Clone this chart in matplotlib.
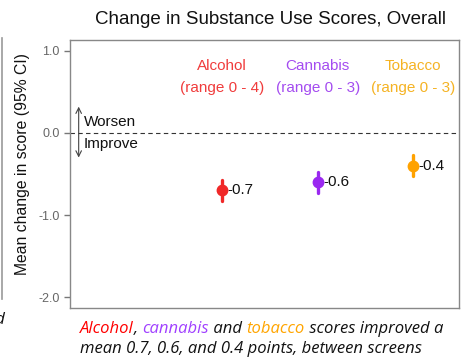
import numpy as np
import matplotlib.pyplot as plt
from matplotlib.lines import Line2D
from matplotlib.offsetbox import TextArea, HPacker, VPacker, AnchoredOffsetbox

plt.rcParams['font.family'] = ['Liberation Sans', 'DejaVu Sans']

# Mean change between screens, with 95% CI
substances = ['Alcohol', 'Cannabis', 'Tobacco']
ranges = ['(range 0 - 4)', '(range 0 - 3)', '(range 0 - 3)']
mean_change = [-0.7, -0.6, -0.4]
ci_low = [-0.83, -0.73, -0.53]
ci_high = [-0.57, -0.47, -0.27]
yticks = [1.0, 0.0, -1.0, -2.0]

marker_colors = ['#F02828', '#9A28F0', '#FFA200']
label_colors = ['#F03C3C', '#A44CF0', '#F5B324']
caption_colors = {'Alcohol': '#FF0000', 'cannabis': '#A040FF', 'tobacco': '#FFA500'}

fig = plt.figure(figsize=(4.61, 3.58), dpi=100)
ax = fig.add_axes([0.152, 0.140, 0.844, 0.748])

x = np.arange(1, len(substances) + 1)
for i in range(len(substances)):
    ax.plot([x[i], x[i]], [ci_low[i], ci_high[i]], color=marker_colors[i],
            lw=2.4, solid_capstyle='round', zorder=3)
    ax.plot(x[i], mean_change[i], 'o', color=marker_colors[i], ms=7.5, zorder=4)
    ax.annotate('%.1f' % mean_change[i], (x[i], mean_change[i]),
                xytext=(4, 0), textcoords='offset points',
                ha='left', va='center', fontsize=11, color='#111111')
    ax.text(x[i], 0.82, substances[i], ha='center', va='center',
            fontsize=11, color=label_colors[i])
    ax.text(x[i], 0.55, ranges[i], ha='center', va='center',
            fontsize=11, color=label_colors[i])

ax.axhline(0, color='#333333', lw=0.8, ls=(0, (4, 3)), zorder=1)

# direction key next to the zero line
ax.annotate('', xy=(-0.5, 0.32), xytext=(-0.5, -0.3),
            arrowprops=dict(arrowstyle='<->', color='#444444', lw=0.8,
                            shrinkA=0, shrinkB=0))
ax.text(-0.45, 0.13, 'Worsen', ha='left', va='center', fontsize=11, color='#111111')
ax.text(-0.45, -0.13, 'Improve', ha='left', va='center', fontsize=11, color='#111111')

ax.set_xlim(-0.59, 3.48)
ax.set_ylim(-2.13, 1.13)
ax.set_xticks([])
ax.set_yticks(yticks)
ax.set_yticklabels(['%.1f' % t for t in yticks])
ax.tick_params(axis='y', colors='#777777', labelcolor='#666666', labelsize=9,
               length=4, width=1)
for s in ax.spines.values():
    s.set_color('#888888')
    s.set_linewidth(1)

ax.set_ylabel('Mean change in score (95% CI)', fontsize=11.3, color='#111111')
ax.yaxis.set_label_coords(-0.103, 0.537)
fig.text(0.586, 0.945, 'Change in Substance Use Scores, Overall',
         ha='center', va='center', fontsize=13.5, color='#111111')

# edge of the neighbouring panel
fig.add_artist(Line2D([0.004, 0.004], [0.165, 0.894], color='#999999', lw=1.2))
fig.text(0.012, 0.105, 'reported', ha='right', va='center', fontsize=12,
         style='italic', family='Open Sans', color='#111111')

# caption with coloured substance names
cap = dict(size=12, style='italic', family='Open Sans')
def piece(s, c='#111111'):
    return TextArea(s, textprops=dict(color=c, **cap))

line1 = HPacker(children=[piece('Alcohol', caption_colors['Alcohol']), piece(', '),
                          piece('cannabis', caption_colors['cannabis']), piece(' and '),
                          piece('tobacco', caption_colors['tobacco']),
                          piece(' scores improved a')],
                pad=0, sep=0, align='baseline')
line2 = HPacker(children=[piece('mean 0.7, 0.6, and 0.4 points, between screens')],
                pad=0, sep=0)
caption = VPacker(children=[line1, line2], pad=0, sep=3, align='left')
box = AnchoredOffsetbox(loc='upper left', child=caption, frameon=False, pad=0,
                        bbox_to_anchor=(0.174, 0.104), bbox_transform=fig.transFigure,
                        borderpad=0)
fig.add_artist(box)

fig.savefig('out.png', dpi=100)
